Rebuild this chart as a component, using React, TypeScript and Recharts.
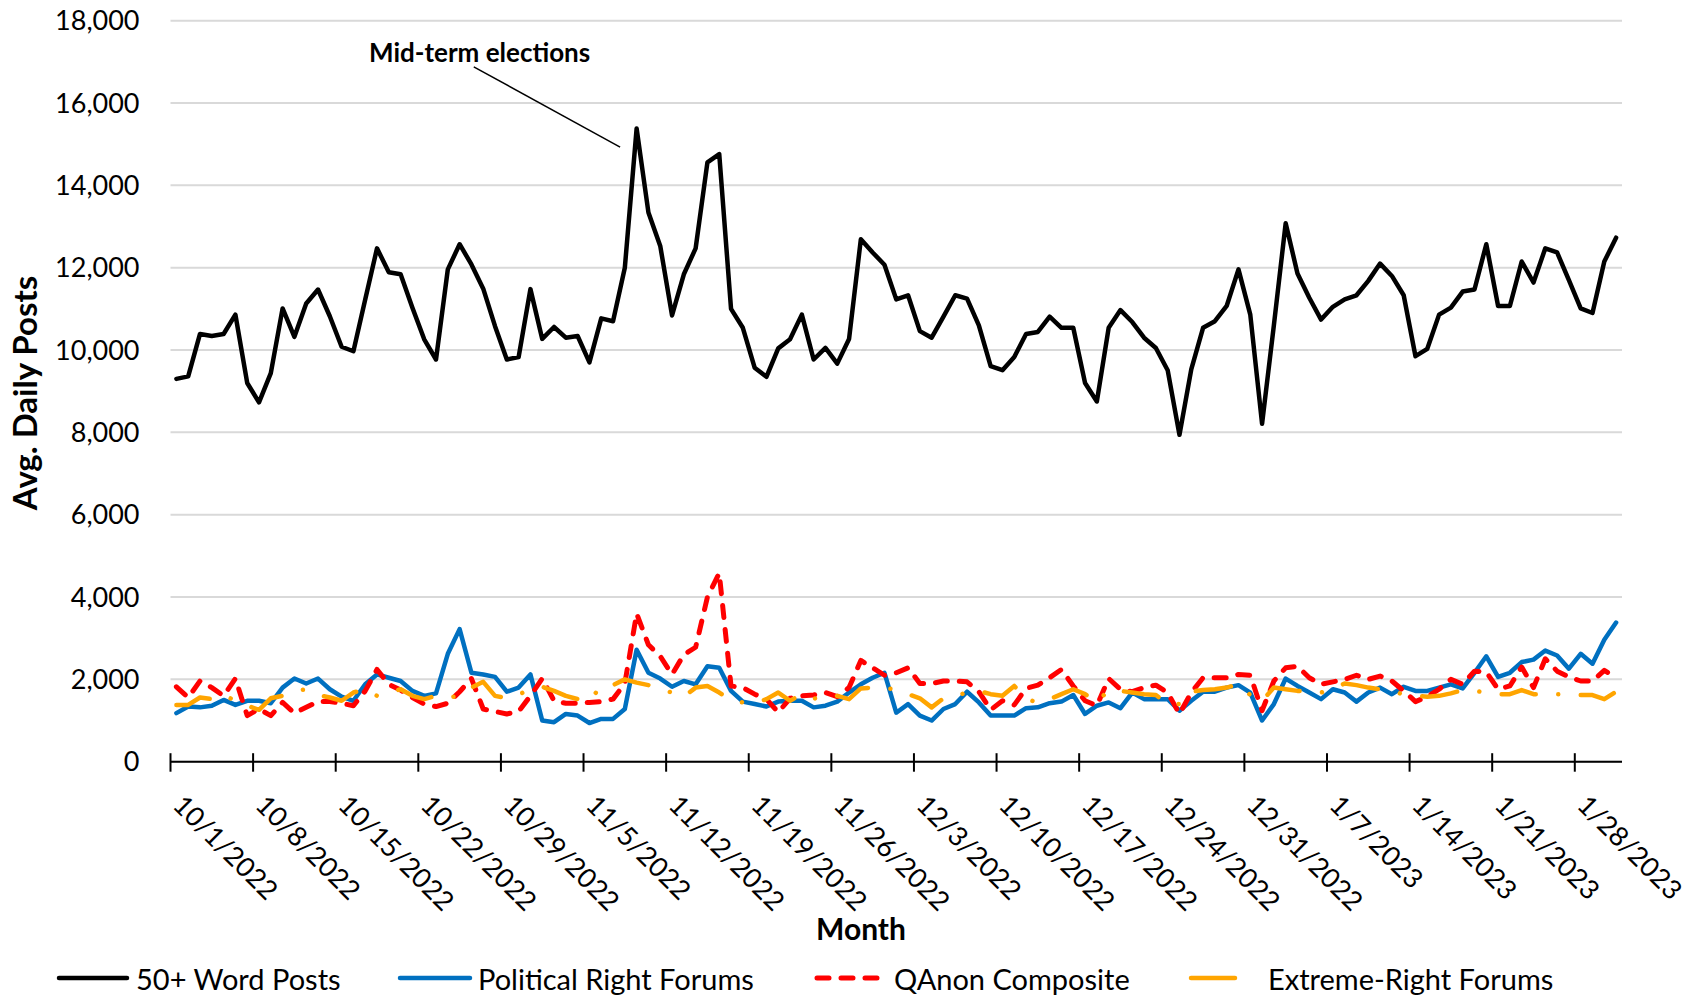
import React from 'react'
import { LineChart, Line, XAxis, YAxis, CartesianGrid, ReferenceLine } from 'recharts'

// daily values, 10/1/2022 .. 1/31/2023
const WORD_POSTS = [
  9300, 9360, 10390, 10340, 10390, 10860, 9200, 8730, 9440, 11010,
  10320, 11130, 11470, 10820, 10080, 9970, 11230, 12470, 11890, 11840,
  11030, 10260, 9770, 11960, 12570, 12080, 11490, 10580, 9770, 9830,
  11480, 10270, 10560, 10300, 10340, 9700, 10770, 10700, 12000, 15380,
  13340, 12530, 10840, 11840, 12470, 14560, 14760, 11000, 10540, 9570,
  9350, 10040, 10260, 10860, 9770, 10050, 9670, 10270, 12690, 12370,
  12070, 11230, 11330, 10460, 10300, 10810, 11330, 11250, 10600, 9610,
  9510, 9830, 10390, 10440, 10810, 10540, 10540, 9200, 8750, 10540,
  10970, 10680, 10300, 10050, 9510, 7940, 9530, 10540, 10700, 11070,
  11960, 10860, 8210, 10600, 13080, 11860, 11270, 10740, 11050, 11230,
  11330, 11680, 12100, 11800, 11330, 9850, 10030, 10860, 11030, 11420,
  11470, 12570, 11070, 11070, 12150, 11640, 12470, 12370, 11700, 11010,
  10900, 12150, 12730,
]

const POLITICAL_RIGHT = [
  1180, 1340, 1320, 1360, 1500, 1380, 1480, 1480, 1420, 1800,
  2020, 1900, 2020, 1760, 1580, 1480, 1880, 2120, 2040, 1960,
  1720, 1600, 1660, 2620, 3220, 2160, 2120, 2060, 1700, 1800,
  2120, 1000, 960, 1160, 1120, 940, 1040, 1040, 1280, 2720,
  2160, 2020, 1820, 1960, 1880, 2320, 2280, 1720, 1460, 1400,
  1340, 1460, 1480, 1480, 1320, 1360, 1460, 1680, 1880, 2040,
  2160, 1190, 1400, 1120, 1000, 1280, 1400, 1700, 1440, 1120,
  1120, 1120, 1300, 1320, 1420, 1460, 1620, 1160, 1360, 1440,
  1300, 1680, 1520, 1520, 1520, 1240, 1480, 1700, 1700, 1800,
  1860, 1680, 1000, 1400, 2020, 1840, 1680, 1520, 1760, 1680,
  1460, 1680, 1800, 1640, 1820, 1720, 1720, 1800, 1880, 1780,
  2160, 2560, 2060, 2160, 2420, 2480, 2700, 2580, 2260, 2620,
  2380, 2960, 3380,
]

const QANON = [
  1820, 1560, 1960, 1800, 1600, 2020, 1120, 1280, 1120, 1440,
  1180, 1320, 1460, 1460, 1420, 1360, 1720, 2240, 1880, 1740,
  1560, 1400, 1340, 1420, 1700, 2020, 1280, 1220, 1160, 1220,
  1600, 2020, 1480, 1420, 1420, 1440, 1460, 1520, 1900, 3600,
  2840, 2560, 2120, 2600, 2780, 4000, 4580, 1840, 1800, 1640,
  1520, 1200, 1540, 1600, 1620, 1680, 1580, 1800, 2460, 2280,
  2100, 2160, 2280, 1900, 1900, 1960, 1960, 1940, 1700, 1260,
  1480, 1380, 1780, 1860, 2040, 2240, 1840, 1480, 1360, 2020,
  1760, 1700, 1800, 1860, 1680, 1160, 1680, 2040, 2040, 2040,
  2120, 2100, 1240, 1960, 2280, 2320, 2040, 1880, 1940, 2000,
  2100, 2000, 2080, 1960, 1720, 1460, 1580, 1760, 2000, 1880,
  2200, 2180, 1760, 1840, 2300, 1800, 2500, 2200, 2060, 1960,
  1960, 2220, 2040,
]

const EXTREME_RIGHT = [
  1380, 1380, 1560, 1520, 1620, 1480, 1360, 1260, 1540, 1600,
  1720, 1760, 1620, 1560, 1480, 1680, 1760, 1600, 1680, 1760,
  1600, 1520, 1600, 1560, 1600, 1800, 1940, 1600, 1540, 1640,
  1740, 1820, 1720, 1600, 1520, 1480, 1840, 1860, 2000, 1920,
  1860, 1760, 1680, 1580, 1800, 1840, 1680, 1480, 1440, 1420,
  1520, 1680, 1480, 1640, 1540, 1520, 1600, 1520, 1780, 1800,
  1780, 1760, 1640, 1540, 1320, 1540, 1600, 1680, 1720, 1640,
  1600, 1840, 1520, 1440, 1520, 1640, 1760, 1640, 1440, 1740,
  1720, 1680, 1640, 1620, 1400, 1400, 1700, 1740, 1760, 1800,
  1880, 1620, 1480, 1800, 1760, 1720, 1700, 1680, 1760, 1900,
  1860, 1800, 1760, 1700, 1640, 1600, 1580, 1600, 1660, 1740,
  1720, 1680, 1640, 1640, 1740, 1640, 1640, 1640, 1640, 1620,
  1620, 1520, 1700,
]

const TICK_LABELS = [
  '10/1/2022', '10/8/2022', '10/15/2022', '10/22/2022', '10/29/2022',
  '11/5/2022', '11/12/2022', '11/19/2022', '11/26/2022', '12/3/2022',
  '12/10/2022', '12/17/2022', '12/24/2022', '12/31/2022', '1/7/2023',
  '1/14/2023', '1/21/2023', '1/28/2023',
]

const Y_TICKS = [0, 2000, 4000, 6000, 8000, 10000, 12000, 14000, 16000, 18000]

const SERIES = [
  { key: 'words', name: '50+ Word Posts', color: '#000000', width: 4.5, dash: undefined },
  { key: 'political', name: 'Political Right Forums', color: '#0070C0', width: 4.5, dash: undefined },
  { key: 'qanon', name: 'QAnon Composite', color: '#FF0000', width: 5, dash: '12 12' },
  { key: 'extreme', name: 'Extreme-Right Forums', color: '#FFA500', width: 4.5, dash: '35.5 22.5 0.01 22.5' },
]

// leader line for the note, in data units (day, posts)
const NOTE_TEXT = 'Mid-term elections'
const NOTE_LINE = [{ x: 25.7, y: 16880 }, { x: 38.1, y: 14930 }]

const FONT = 'Lato, "Open Sans", sans-serif'
const W = 1702
const H = 996

const data = WORD_POSTS.map((v, i) => ({
  day: i + 0.5,
  words: v,
  political: POLITICAL_RIGHT[i],
  qanon: QANON[i],
  extreme: EXTREME_RIGHT[i],
}))

function DateTick(props: any) {
  const { x, y, payload } = props
  const label = TICK_LABELS[Math.round(payload.value / 7)]
  const tx = x + 1
  const ty = y + 45
  return (
    <g>
      <line x1={x} x2={x} y1={y - 8.5} y2={y + 10} stroke="#000" strokeWidth={2} />
      <text x={tx} y={ty} transform={`rotate(45, ${tx}, ${ty})`}
        fontSize={27} fontFamily={FONT} fill="#000">
        {label}
      </text>
    </g>
  )
}

// legend sample positions (px)
const LEGEND_POS = [
  { x1: 59, x2: 127, tx: 136 },
  { x1: 400, x2: 470, tx: 478 },
  { x1: 817, x2: 885, tx: 894 },
  { x1: 1191, x2: 1235, tx: 1268 },
]

export default function App() {
  return (
    <div style={{ position: 'absolute', left: 0, top: 0, width: W, height: H, background: '#fff' }}>
      <LineChart width={W} height={H} data={data}
        margin={{ top: 20.7, right: 80, bottom: 74.3, left: 0 }}>
        <CartesianGrid vertical={false} stroke="#d9d9d9" strokeWidth={2} />
        <XAxis type="number" dataKey="day" domain={[0, 123]}
          ticks={TICK_LABELS.map((_, k) => k * 7)} interval={0}
          tick={<DateTick />} tickLine={false} tickSize={0} tickMargin={0}
          axisLine={{ stroke: '#000', strokeWidth: 2 }} height={160} />
        <YAxis type="number" domain={[0, 18000]} ticks={Y_TICKS} interval={0}
          tickFormatter={(v: number) => v.toLocaleString('en-US')}
          axisLine={false} tickLine={false} tickSize={0} tickMargin={31} width={170.5}
          tick={{ fontSize: 27, fontFamily: FONT, fill: '#000' }} />
        <ReferenceLine segment={NOTE_LINE} stroke="#000" strokeWidth={1.5} />
        {SERIES.map((s) => (
          <Line key={s.key} type="linear" dataKey={s.key} name={s.name}
            stroke={s.color} strokeWidth={s.width} strokeDasharray={s.dash}
            strokeLinejoin="round" strokeLinecap="round"
            dot={false} activeDot={false} isAnimationActive={false} />
        ))}
      </LineChart>

      <svg width={W} height={H} style={{ position: 'absolute', left: 0, top: 0, pointerEvents: 'none' }}>
        <text x={369} y={52} dominantBaseline="central" fontSize={26} fontWeight="bold" fontFamily={FONT}>
          {NOTE_TEXT}
        </text>
        <text x={24} y={393} transform="rotate(-90, 24, 393)" textAnchor="middle"
          dominantBaseline="central" fontSize={33} fontWeight="bold" fontFamily={FONT}>
          Avg. Daily Posts
        </text>
        <text x={861} y={928} textAnchor="middle" dominantBaseline="central"
          fontSize={30} fontWeight="bold" fontFamily={FONT}>
          Month
        </text>
        {SERIES.map((s, k) => (
          <g key={s.key}>
            <line x1={LEGEND_POS[k].x1} x2={LEGEND_POS[k].x2} y1={978} y2={978}
              stroke={s.color} strokeWidth={s.width} strokeLinecap="round"
              strokeDasharray={s.key === 'qanon' ? s.dash : undefined} />
            <text x={LEGEND_POS[k].tx} y={978} dominantBaseline="central" fontSize={29} fontFamily={FONT}>
              {s.name}
            </text>
          </g>
        ))}
      </svg>
    </div>
  )
}
